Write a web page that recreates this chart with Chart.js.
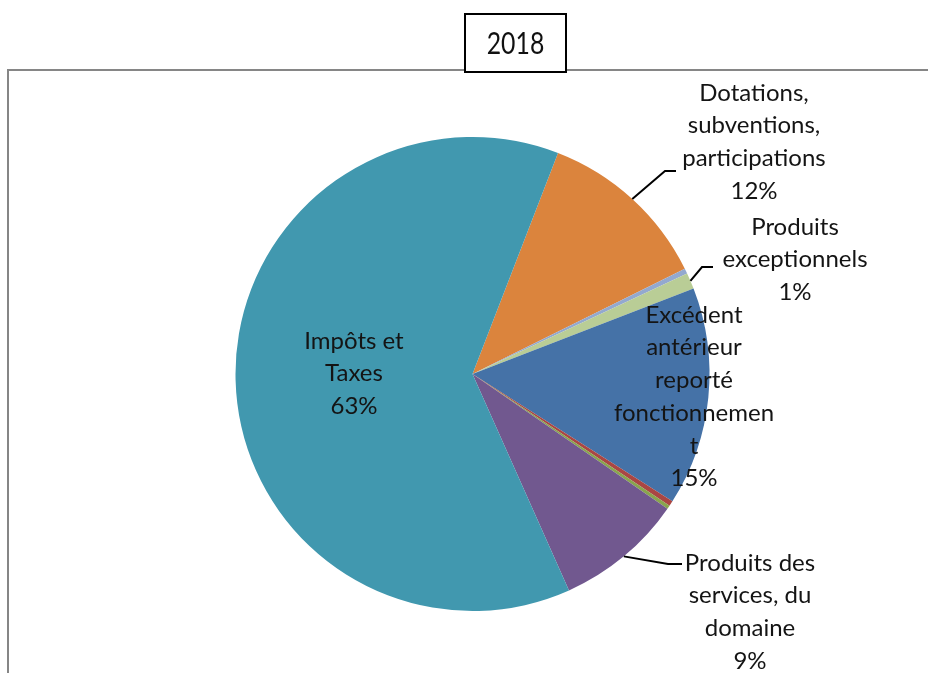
<!DOCTYPE html>
<html>
<head>
<meta charset="utf-8">
<script src="https://cdn.jsdelivr.net/npm/chart.js@4.4.0/dist/chart.umd.min.js"></script>
<style>
  html, body { margin: 0; padding: 0; background: #fff; }
  #pie { display: block; }
</style>
</head>
<body>
<canvas id="pie" width="928" height="673"></canvas>
<script>
const title = '2018';
const categories = [
  'Dotations, subventions, participations',
  'Atténuations de charges',
  'Produits exceptionnels',
  'Excédent antérieur reporté fonctionnement',
  'Produits financiers',
  'Autres produits de gestion courante',
  'Produits des services, du domaine',
  'Impôts et Taxes'
];
const values = [11.8, 0.35, 1.1, 14.9, 0.35, 0.25, 8.7, 62.55];
const colors = ['#DB843D', '#93A9CF', '#B9CD96', '#4572A7', '#AA4643', '#89A54E', '#71588F', '#4198AF'];

// label text split into lines like excel did it (null = no label)
const labelLines = [
  ['Dotations,', 'subventions,', 'participations'],
  null,
  ['Produits', 'exceptionnels'],
  ['Excédent', 'antérieur', 'reporté', 'fonctionnemen', 't'],
  null,
  null,
  ['Produits des', 'services, du', 'domaine'],
  ['Impôts et', 'Taxes']
];

// where each label sits (center x, first line y) + leader elbow
const labelLayout = {
  0: { x: 754, y: 93, elbow: [665, 171], end: [676, 171] },
  2: { x: 795, y: 227, elbow: [702, 267], end: [713, 267] },
  3: { x: 694, y: 315 },
  6: { x: 750, y: 563, elbow: [668, 564], end: [682, 564] },
  7: { x: 354, y: 341 }
};

const lineH = 32.7;
const total = values.reduce((a, b) => a + b, 0);

const decor = {
  id: 'decor',
  beforeDraw(chart) {
    const c = chart.ctx;
    c.save();
    c.strokeStyle = '#868686';
    c.lineWidth = 2;
    c.beginPath();
    c.moveTo(8, 673);
    c.lineTo(8, 70);
    c.lineTo(928, 70);
    c.stroke();
    c.restore();
  },
  afterDraw(chart) {
    const c = chart.ctx;
    const arcs = chart.getDatasetMeta(0).data;
    c.save();
    c.font = '24px Lato';
    c.fillStyle = '#141414';
    c.textAlign = 'center';
    c.textBaseline = 'middle';
    Object.keys(labelLayout).forEach(k => {
      const i = +k;
      const pos = labelLayout[i];
      const lines = labelLines[i].concat([Math.round(values[i] / total * 100) + '%']);
      lines.forEach((t, j) => c.fillText(t, pos.x, pos.y + j * lineH));
      if (pos.elbow) {
        const a = arcs[i];
        const mid = (a.startAngle + a.endAngle) / 2;
        const sx = a.x + Math.cos(mid) * a.outerRadius;
        const sy = a.y + Math.sin(mid) * a.outerRadius;
        c.strokeStyle = '#000';
        c.lineWidth = 2;
        c.beginPath();
        c.moveTo(sx, sy);
        c.lineTo(pos.elbow[0], pos.elbow[1]);
        c.lineTo(pos.end[0], pos.end[1]);
        c.stroke();
      }
    });

    // title box
    c.fillStyle = '#fff';
    c.fillRect(465, 14, 101, 58);
    c.strokeStyle = '#000';
    c.lineWidth = 2;
    c.strokeRect(465, 14, 101, 58);
    c.fillStyle = '#111';
    c.translate(515.5, 44);
    c.scale(0.8, 1);
    c.font = '31px Lato';
    c.fillText(title, 0, 0);
    c.restore();
  }
};

new Chart(document.getElementById('pie').getContext('2d'), {
  type: 'pie',
  data: {
    labels: categories,
    datasets: [{
      data: values,
      backgroundColor: colors,
      borderWidth: 0
    }]
  },
  options: {
    responsive: false,
    animation: false,
    rotation: 21.15,
    layout: { padding: { top: 137, bottom: 62, left: 235.5, right: 218.5 } },
    plugins: {
      legend: { display: false },
      tooltip: { enabled: false },
      title: { display: false }
    }
  },
  plugins: [decor]
});
</script>
</body>
</html>
